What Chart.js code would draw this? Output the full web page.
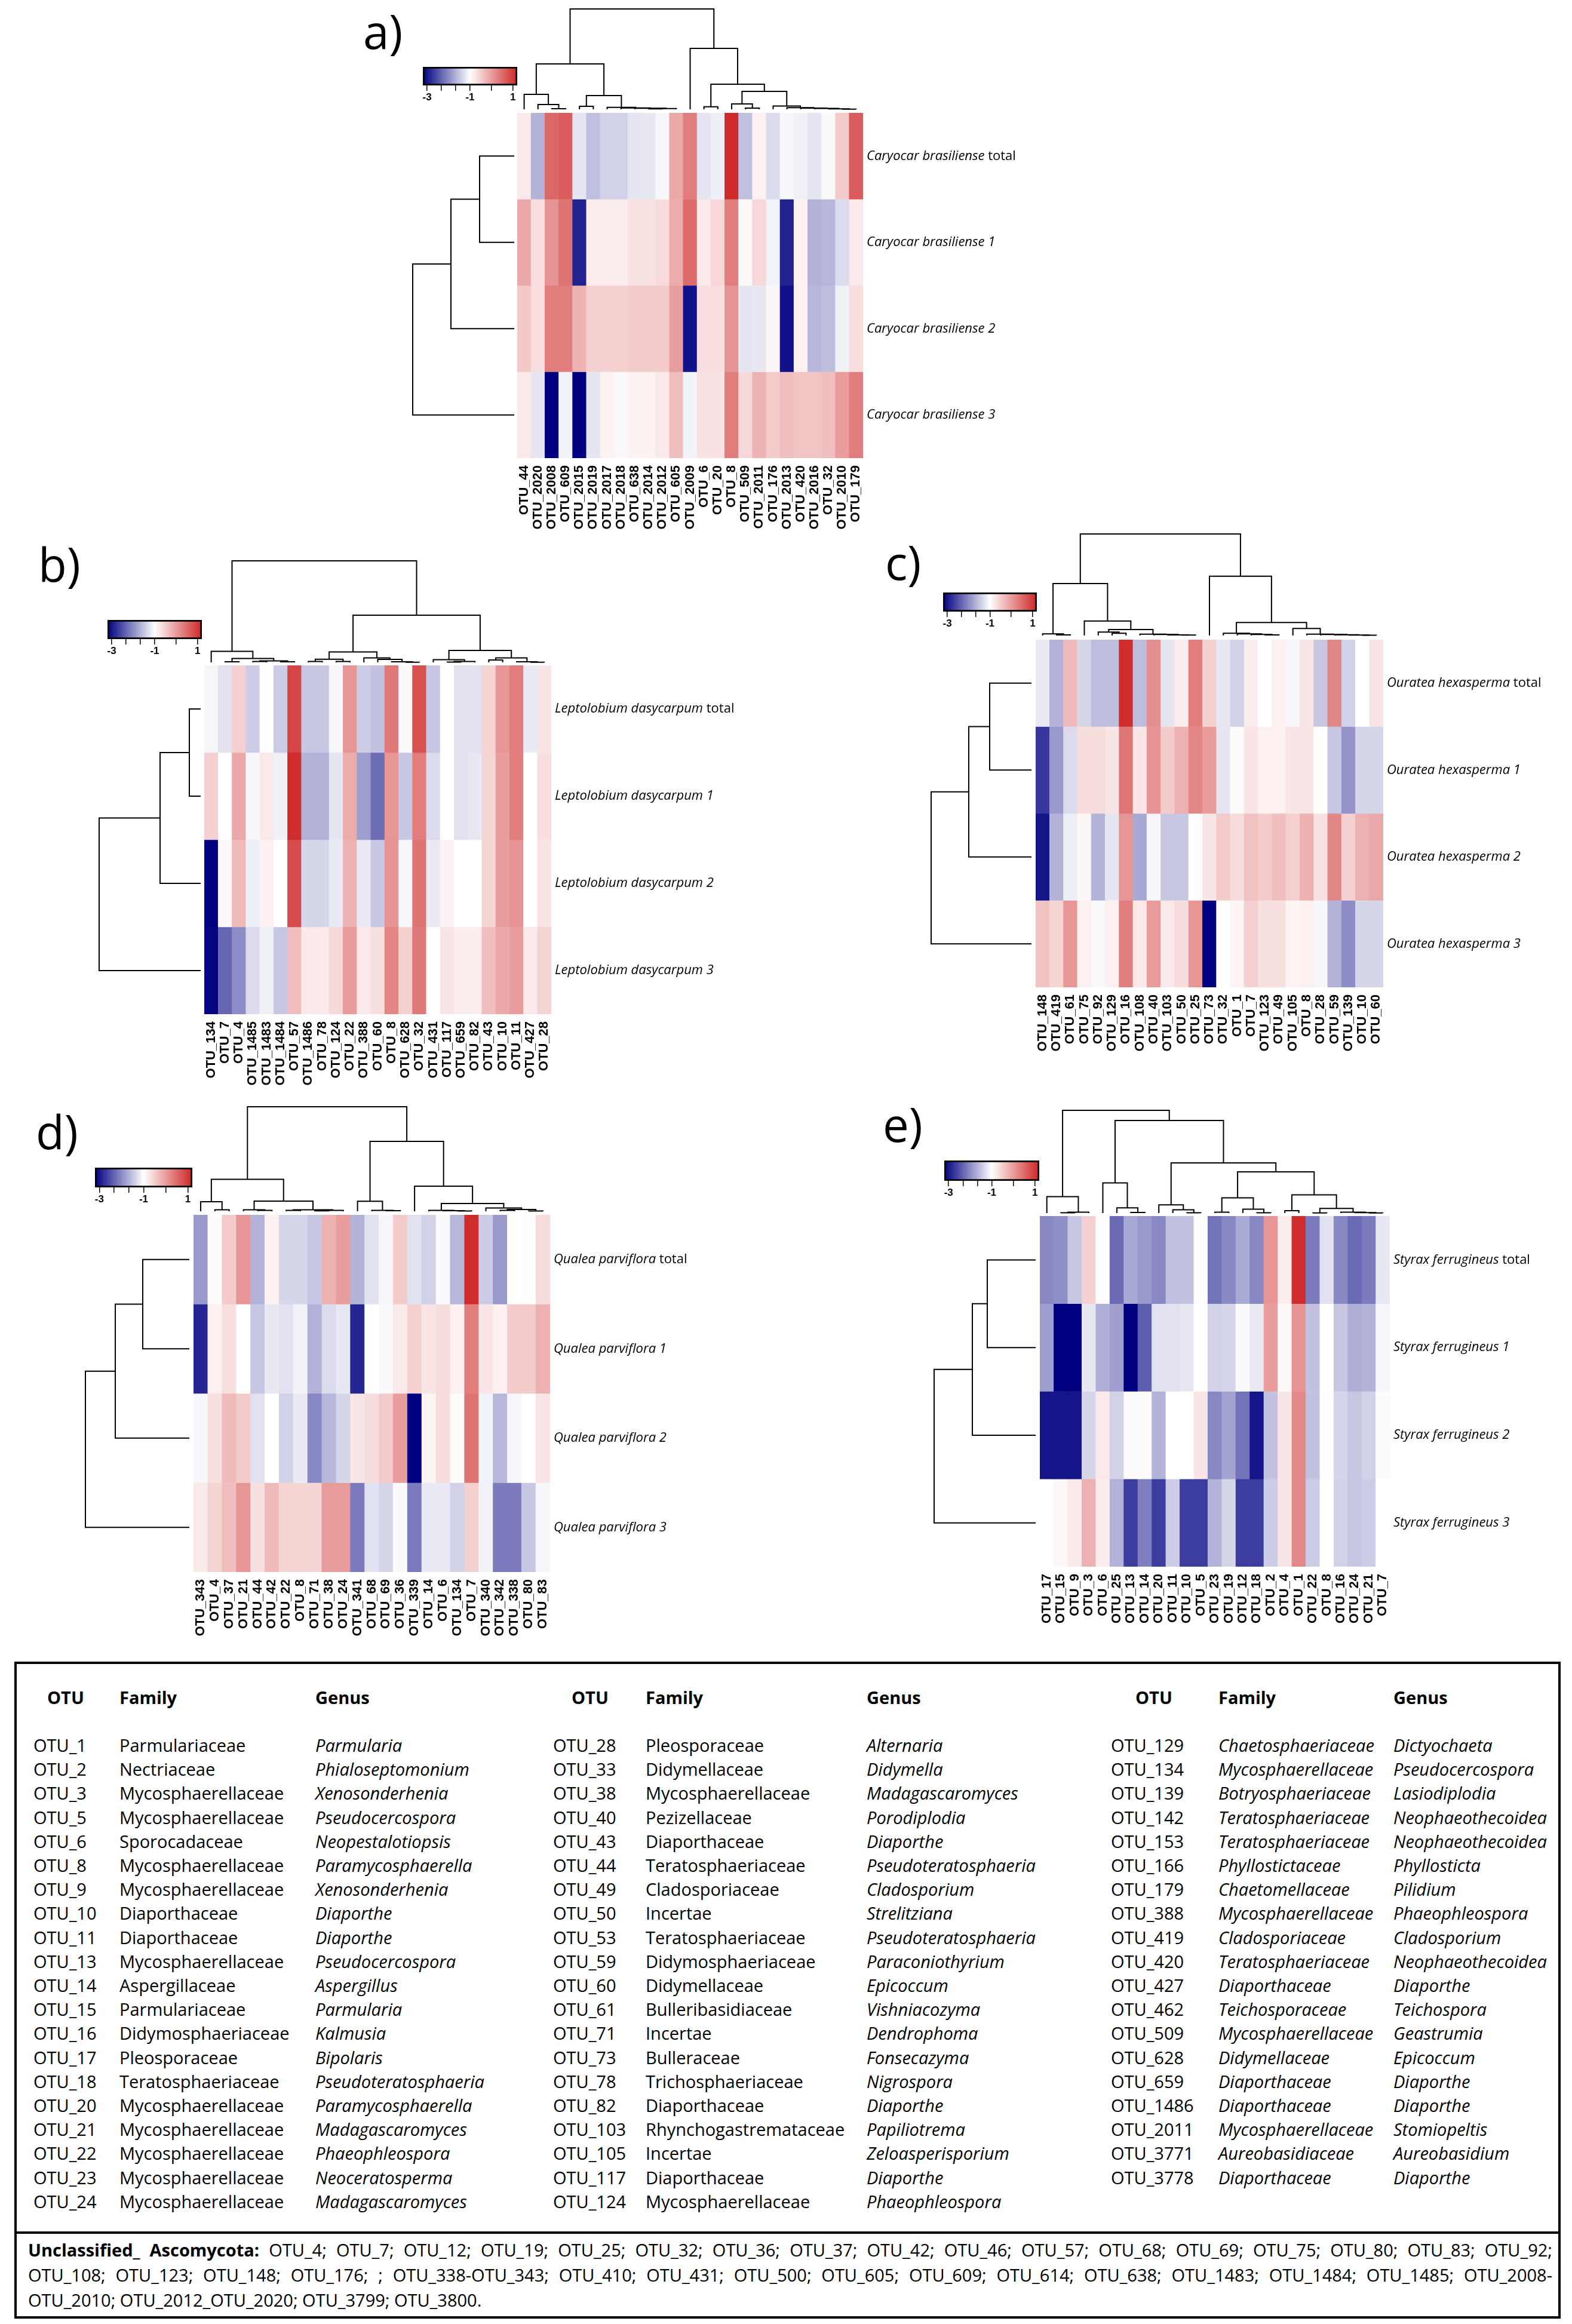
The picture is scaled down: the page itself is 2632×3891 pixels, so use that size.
<!DOCTYPE html>
<html><head><meta charset="utf-8">
<script src="https://cdn.jsdelivr.net/npm/chart.js@4.4.1/dist/chart.umd.min.js"></script>
<style>
html,body{margin:0;padding:0;background:#fff;}
#root{position:relative;width:2632px;height:3891px;background:#fff;overflow:hidden;font-family:"Open Sans",sans-serif;color:#000;}
#root canvas{position:absolute;}
.t{position:absolute;white-space:nowrap;font-size:29px;line-height:40px;}
.b{font-weight:bold;}
.i{font-style:italic;}
.letter{position:absolute;font-size:78px;line-height:78px;white-space:nowrap;}
</style></head><body><div id="root"></div>
<script>
// ---------------- DATA ----------------
const colsA = ['OTU_44','OTU_2020','OTU_2008','OTU_609','OTU_2015','OTU_2019','OTU_2017','OTU_2018','OTU_638','OTU_2014','OTU_2012','OTU_605','OTU_2009','OTU_6','OTU_20','OTU_8','OTU_509','OTU_2011','OTU_176','OTU_2013','OTU_420','OTU_2016','OTU_32','OTU_2010','OTU_179'];
const colsB = ['OTU_134','OTU_7','OTU_4','OTU_1485','OTU_1483','OTU_1484','OTU_57','OTU_1486','OTU_78','OTU_124','OTU_22','OTU_388','OTU_60','OTU_8','OTU_628','OTU_32','OTU_431','OTU_117','OTU_659','OTU_82','OTU_43','OTU_10','OTU_11','OTU_427','OTU_28'];
const colsC = ['OTU_148','OTU_419','OTU_61','OTU_75','OTU_92','OTU_129','OTU_16','OTU_108','OTU_40','OTU_103','OTU_50','OTU_25','OTU_73','OTU_32','OTU_1','OTU_7','OTU_123','OTU_49','OTU_105','OTU_8','OTU_28','OTU_59','OTU_139','OTU_10','OTU_60'];
const colsD = ['OTU_343','OTU_4','OTU_37','OTU_21','OTU_44','OTU_42','OTU_22','OTU_8','OTU_71','OTU_38','OTU_24','OTU_341','OTU_68','OTU_69','OTU_36','OTU_339','OTU_14','OTU_6','OTU_134','OTU_7','OTU_340','OTU_342','OTU_338','OTU_80','OTU_83'];
const colsE = ['OTU_17','OTU_15','OTU_9','OTU_3','OTU_6','OTU_25','OTU_13','OTU_14','OTU_20','OTU_11','OTU_10','OTU_5','OTU_23','OTU_19','OTU_12','OTU_18','OTU_2','OTU_4','OTU_1','OTU_22','OTU_8','OTU_16','OTU_24','OTU_21','OTU_7'];

const rowSuffix = ['total','1','2','3'];
const speciesA = 'Caryocar brasiliense';
const speciesB = 'Leptolobium dasycarpum';
const speciesC = 'Ouratea hexasperma';
const speciesD = 'Qualea parviflora';
const speciesE = 'Styrax ferrugineus';

// scaled abundance (rows: total, 1, 2, 3)
const valuesA = [
 [-0.78,-1.66,0.54,0.65,-1.22,-1.55,-1.4,-1.4,-1.22,-1.2,-1.07,-0.12,0.32,-1.22,-1.15,1.16,-1.55,-0.85,-1.31,-1.07,-1.13,-1.22,-1.04,-0.47,0.65],
 [-0.12,-0.67,0.1,0.43,-2.91,-0.82,-0.82,-0.82,-0.71,-0.71,-0.63,-0.16,0.5,-0.78,-0.6,0.32,-0.93,-0.6,-1.11,-2.91,-0.87,-1.66,-1.62,-1.31,-0.78],
 [-0.45,-0.67,0.32,0.32,-0.23,-0.52,-0.52,-0.52,-0.47,-0.47,-0.47,-0.01,-3.05,-0.67,-0.67,0.1,-1.22,-1.2,-0.91,-3.05,-0.85,-1.62,-1.57,-1.13,-0.67],
 [-0.78,-1.22,-3.2,-1.11,-3.2,-1.22,-0.87,-0.93,-0.87,-0.87,-0.78,-0.34,-1.11,-0.71,-0.71,0.32,-0.6,-0.23,-0.47,-0.34,-0.41,-0.41,-0.34,-0.01,0.32]
];
const valuesB = [
 [-1.09,-1.26,-0.52,-1.44,-1.0,-1.44,0.87,-1.48,-1.48,-1.07,0.06,-1.44,-1.53,0.36,-1.04,0.76,-1.48,-1.0,-1.26,-1.26,-0.56,0.06,0.32,-1.18,-0.74],
 [-0.52,-1.0,-0.12,-1.07,-0.78,-1.13,1.13,-1.66,-1.66,-1.22,-0.16,-1.84,-2.25,0.06,-1.48,0.32,-1.31,-1.0,-1.26,-1.2,-0.56,-0.01,0.32,-1.0,-0.69],
 [-3.2,-0.93,-0.3,-1.15,-0.85,-1.0,0.8,-1.35,-1.35,-1.18,-0.21,-1.18,-1.48,0.1,-1.07,0.41,-1.18,-0.87,-1.0,-1.0,-0.56,-0.01,0.1,-1.0,-0.74],
 [-3.16,-2.32,-1.99,-1.31,-1.13,-1.48,-0.34,-0.78,-0.78,-0.6,0.01,-0.78,-0.69,0.23,-0.52,0.36,-1.0,-0.74,-0.82,-0.82,-0.34,-0.12,-0.01,-0.78,-0.56]
];
const valuesC = [
 [-1.18,-1.66,-0.3,-1.35,-1.57,-1.57,1.13,-1.57,0.14,-1.22,-0.82,0.32,-0.52,-1.2,-1.4,-0.82,-1.0,-0.85,-1.07,-0.74,-1.48,0.23,-1.4,-1.0,-0.74],
 [-2.72,-1.88,-1.31,-0.65,-0.65,-0.74,0.39,-0.74,0.1,-0.47,-0.21,0.23,-0.01,-1.22,-0.96,-0.74,-0.85,-0.85,-0.74,-0.74,-1.0,-1.48,-1.92,-1.35,-1.35],
 [-3.02,-1.66,-1.15,-0.91,-1.66,-1.22,0.06,-1.75,-1.09,-1.48,-1.48,-1.0,-0.74,-0.47,-0.65,-0.38,-0.47,-0.34,-0.52,-0.21,-0.71,0.23,-0.52,-0.21,-0.12],
 [-0.38,-0.56,0.06,-0.85,-1.04,-0.85,0.32,-0.78,0.01,-0.78,-0.65,0.06,-3.2,-1.0,-0.89,-0.52,-0.69,-0.69,-0.89,-0.85,-1.07,-1.66,-1.99,-1.35,-1.35]
];
const valuesD = [
 [-1.88,-0.96,-0.47,0.06,-1.66,-0.85,-1.35,-1.35,-1.48,-0.21,-0.01,-1.66,-1.26,-1.07,-0.47,-1.26,-1.4,-1.04,-1.62,1.13,-1.44,-1.88,-1.0,-0.98,-0.65],
 [-2.87,-0.85,-0.69,-1.0,-1.48,-1.2,-1.26,-1.11,-1.66,-1.31,-1.2,-2.87,-1.0,-1.04,-0.78,-0.52,-0.74,-0.65,-0.85,0.32,-0.74,-0.85,-0.47,-0.47,-0.21],
 [-1.07,-0.69,-0.3,-0.47,-1.26,-1.0,-1.4,-1.18,-2.03,-1.62,-1.35,-0.74,-0.65,-0.47,-0.01,-3.2,-0.89,-0.65,-0.96,0.43,-1.11,-1.62,-1.07,-1.0,-0.74],
 [-0.78,-0.56,-0.34,0.06,-0.69,-0.3,-0.56,-0.56,-0.56,0.01,0.01,-2.14,-1.26,-1.35,-1.04,-2.14,-1.18,-1.18,-1.4,-0.52,-1.11,-2.14,-2.14,-1.48,-1.07]
];
const valuesE = [
 [-2.03,-1.97,-1.48,-0.52,-1.02,-2.28,-1.75,-1.88,-2.03,-1.53,-1.53,-1.02,-2.21,-2.03,-1.73,-2.03,0.06,-0.82,1.13,-2.14,-1.26,-2.03,-2.28,-2.14,-1.2],
 [-1.84,-3.2,-3.2,-1.2,-1.7,-1.84,-3.2,-2.39,-1.26,-1.26,-1.2,-1.0,-1.4,-1.35,-1.04,-1.18,-0.01,-0.93,0.1,-1.53,-1.0,-1.48,-1.7,-1.66,-1.07],
 [-3.02,-3.02,-3.02,-1.35,-0.78,-1.4,-0.96,-0.96,-1.66,-1.0,-1.0,-0.74,-2.03,-1.79,-2.21,-3.02,-1.53,-0.74,0.21,-1.53,-1.02,-1.35,-1.48,-1.4,-0.96],
 [-1.0,-0.93,-0.78,-0.21,-0.82,-1.66,-2.67,-2.1,-2.67,-1.44,-2.67,-2.67,-1.66,-1.35,-2.67,-2.67,-1.44,-0.74,0.21,-1.44,-1.0,-1.4,-1.48,-1.44,-1.0]
];

// hierarchical clustering merges: [nodeA, nodeB, height]; new node ids start at n
const colTreeA = [[2,3,1],[1,25,8],[0,26,25],[4,5,5],[9,10,0.8],[29,11,1.2],[8,30,1.8],[7,31,2.3],[6,32,3.3],[28,33,23],[27,34,76],[13,14,4.3],[16,17,2],[15,37,9],[23,24,0.3],[22,39,0.8],[21,40,1.5],[20,41,2],[19,42,2.7],[18,43,5.4],[38,44,30],[36,45,42],[12,46,102],[35,47,168]];
const colTreeB = [[1,2,1],[3,4,1.5],[5,6,1],[26,27,2.6],[25,28,6.4],[0,29,18.5],[7,8,1.5],[9,10,1.5],[31,32,5.3],[14,15,0.3],[13,34,1],[12,35,5],[11,36,7.4],[33,37,17.5],[17,18,0.5],[39,19,1.5],[16,40,4.5],[20,21,4],[23,24,0.3],[22,43,1],[42,44,7.4],[41,45,20],[38,46,79],[30,47,170]];
const colTreeC = [[1,2,1],[0,25,2.7],[5,6,3.7],[4,27,5.7],[10,11,0.7],[9,29,1],[8,30,1.7],[7,31,2.3],[28,32,10],[3,33,24.3],[26,34,87],[16,17,1],[15,36,1.7],[14,37,2.7],[13,38,3.7],[23,24,0.5],[22,40,0.8],[21,41,1.3],[20,42,1.7],[19,43,2.3],[18,44,11.7],[39,45,21.7],[12,46,99.3],[35,47,170]];
const colTreeD = [[1,2,2.5],[0,25,16],[4,5,1.5],[3,27,2.6],[6,7,1.5],[8,9,0.8],[30,10,1.5],[29,31,2.6],[28,32,17],[26,33,53.6],[13,14,1],[12,35,1.5],[11,36,16.8],[18,19,0.5],[17,38,1],[16,39,1.5],[21,22,1.5],[23,24,0.5],[41,42,3],[20,43,5.6],[40,44,13],[15,45,42],[37,46,117],[34,47,175]];
const colTreeE = [[1,2,0.5],[25,3,1.5],[0,26,27.5],[6,7,1],[5,28,8.7],[4,29,50.5],[10,11,0.5],[9,31,5.6],[8,32,13.8],[12,13,1.5],[15,16,0.5],[14,35,6.6],[34,36,25.5],[17,18,4],[19,20,0.3],[23,24,0.3],[22,40,0.8],[21,41,1.5],[39,42,7.7],[38,43,30.6],[37,44,69],[33,45,84],[30,46,155],[27,47,172]];

const rowTreeA = [[0,1,58],[4,2,106],[5,3,170]];
const rowTreeB = [[0,1,19],[4,2,68],[5,3,170]];
const rowTreeC = [[0,1,70],[4,2,105],[5,3,168]];
const rowTreeD = [[0,1,78],[4,2,124],[5,3,174]];
const rowTreeE = [[0,1,81],[4,2,106],[5,3,170]];

const legendTicks = [-3,-7/3,-5/3,-1,0,1];
const legendTickText = ['-3','','','-1','','1'];

const tableCol1 = [
 ['OTU_1','Parmulariaceae','Parmularia'],['OTU_2','Nectriaceae','Phialoseptomonium'],['OTU_3','Mycosphaerellaceae','Xenosonderhenia'],
 ['OTU_5','Mycosphaerellaceae','Pseudocercospora'],['OTU_6','Sporocadaceae','Neopestalotiopsis'],['OTU_8','Mycosphaerellaceae','Paramycosphaerella'],
 ['OTU_9','Mycosphaerellaceae','Xenosonderhenia'],['OTU_10','Diaporthaceae','Diaporthe'],['OTU_11','Diaporthaceae','Diaporthe'],
 ['OTU_13','Mycosphaerellaceae','Pseudocercospora'],['OTU_14','Aspergillaceae','Aspergillus'],['OTU_15','Parmulariaceae','Parmularia'],
 ['OTU_16','Didymosphaeriaceae','Kalmusia'],['OTU_17','Pleosporaceae','Bipolaris'],['OTU_18','Teratosphaeriaceae','Pseudoteratosphaeria'],
 ['OTU_20','Mycosphaerellaceae','Paramycosphaerella'],['OTU_21','Mycosphaerellaceae','Madagascaromyces'],['OTU_22','Mycosphaerellaceae','Phaeophleospora'],
 ['OTU_23','Mycosphaerellaceae','Neoceratosperma'],['OTU_24','Mycosphaerellaceae','Madagascaromyces']];
const tableCol2 = [
 ['OTU_28','Pleosporaceae','Alternaria'],['OTU_33','Didymellaceae','Didymella'],['OTU_38','Mycosphaerellaceae','Madagascaromyces'],
 ['OTU_40','Pezizellaceae','Porodiplodia'],['OTU_43','Diaporthaceae','Diaporthe'],['OTU_44','Teratosphaeriaceae','Pseudoteratosphaeria'],
 ['OTU_49','Cladosporiaceae','Cladosporium'],['OTU_50','Incertae','Strelitziana'],['OTU_53','Teratosphaeriaceae','Pseudoteratosphaeria'],
 ['OTU_59','Didymosphaeriaceae','Paraconiothyrium'],['OTU_60','Didymellaceae','Epicoccum'],['OTU_61','Bulleribasidiaceae','Vishniacozyma'],
 ['OTU_71','Incertae','Dendrophoma'],['OTU_73','Bulleraceae','Fonsecazyma'],['OTU_78','Trichosphaeriaceae','Nigrospora'],
 ['OTU_82','Diaporthaceae','Diaporthe'],['OTU_103','Rhynchogastremataceae','Papiliotrema'],['OTU_105','Incertae','Zeloasperisporium'],
 ['OTU_117','Diaporthaceae','Diaporthe'],['OTU_124','Mycosphaerellaceae','Phaeophleospora']];
const tableCol3 = [
 ['OTU_129','Chaetosphaeriaceae','Dictyochaeta'],['OTU_134','Mycosphaerellaceae','Pseudocercospora'],['OTU_139','Botryosphaeriaceae','Lasiodiplodia'],
 ['OTU_142','Teratosphaeriaceae','Neophaeothecoidea'],['OTU_153','Teratosphaeriaceae','Neophaeothecoidea'],['OTU_166','Phyllostictaceae','Phyllosticta'],
 ['OTU_179','Chaetomellaceae','Pilidium'],['OTU_388','Mycosphaerellaceae','Phaeophleospora'],['OTU_419','Cladosporiaceae','Cladosporium'],
 ['OTU_420','Teratosphaeriaceae','Neophaeothecoidea'],['OTU_427','Diaporthaceae','Diaporthe'],['OTU_462','Teichosporaceae','Teichospora'],
 ['OTU_509','Mycosphaerellaceae','Geastrumia'],['OTU_628','Didymellaceae','Epicoccum'],['OTU_659','Diaporthaceae','Diaporthe'],
 ['OTU_1486','Diaporthaceae','Diaporthe'],['OTU_2011','Mycosphaerellaceae','Stomiopeltis'],['OTU_3771','Aureobasidiaceae','Aureobasidium'],
 ['OTU_3778','Diaporthaceae','Diaporthe']];
const footerLabel = 'Unclassified_ Ascomycota:';
const footerLines = [
 ' OTU_4; OTU_7; OTU_12; OTU_19; OTU_25; OTU_32; OTU_36; OTU_37; OTU_42; OTU_46; OTU_57; OTU_68; OTU_69; OTU_75; OTU_80; OTU_83; OTU_92;',
 'OTU_108; OTU_123; OTU_148; OTU_176; ; OTU_338-OTU_343; OTU_410; OTU_431; OTU_500; OTU_605; OTU_609; OTU_614; OTU_638; OTU_1483; OTU_1484; OTU_1485; OTU_2008-',
 'OTU_2010; OTU_2012_OTU_2020; OTU_3799; OTU_3800.'];

// ---------------- COLOUR SCALE ----------------
const vmin = -3.2, vmax = 1.2, vmid = -1;
const navy = [0,0,128], white = [255,255,255], fire = [205,38,38];
function colorFor(v){
  let t = v >= vmid ? (v - vmid)/(vmax - vmid) : -(vmid - v)/(vmid - vmin);
  t = Math.max(-1, Math.min(1, t));
  const end = t < 0 ? navy : fire, a = Math.abs(t);
  const c = white.map((w,i)=>Math.round(w + (end[i]-w)*a));
  return 'rgb('+c[0]+','+c[1]+','+c[2]+')';
}

// ---------------- LAYOUT ----------------
const panels = [
 {letter:'a)', lx:608, lb:82, hm:{x:866,y:189,w:579,h:578}, topLeaves:183, leftLeaves:861, cbar:{x:708,y:112,w:158,h:31}, cols:colsA, values:valuesA, colTree:colTreeA, rowTree:rowTreeA, species:speciesA},
 {letter:'b)', lx:64, lb:974, hm:{x:342,y:1114,w:581,h:584}, topLeaves:1109, leftLeaves:336, cbar:{x:180,y:1038,w:158,h:32}, cols:colsB, values:valuesB, colTree:colTreeB, rowTree:rowTreeB, species:speciesB},
 {letter:'c)', lx:1482, lb:971, hm:{x:1734,y:1071,w:582,h:582}, topLeaves:1064, leftLeaves:1727, cbar:{x:1579,y:992,w:157,h:32}, cols:colsC, values:valuesC, colTree:colTreeC, rowTree:rowTreeC, species:speciesC},
 {letter:'d)', lx:60, lb:1924, hm:{x:324,y:2034,w:597,h:598}, topLeaves:2028, leftLeaves:317, cbar:{x:159,y:1955,w:163,h:33}, cols:colsD, values:valuesD, colTree:colTreeD, rowTree:rowTreeD, species:speciesD},
 {letter:'e)', lx:1478, lb:1912, hm:{x:1741,y:2036,w:586,h:587}, topLeaves:2031, leftLeaves:1734, cbar:{x:1581,y:1943,w:159,h:34}, cols:colsE, values:valuesE, colTree:colTreeE, rowTree:rowTreeE, species:speciesE}
];

Chart.defaults.color = '#000';
Chart.defaults.font.family = '"Liberation Sans", Arial, sans-serif';
const root = document.getElementById('root');
function mkCanvas(x,y,w,h){
  const c = document.createElement('canvas');
  c.width = w; c.height = h;
  c.style.left = x+'px'; c.style.top = y+'px'; c.style.width = w+'px'; c.style.height = h+'px';
  root.appendChild(c); return c;
}
function mkText(x, yCenter, html, cls){
  const d = document.createElement('div');
  d.className = 't ' + (cls||'');
  d.style.left = x+'px'; d.style.top = (yCenter-21)+'px';
  d.innerHTML = html; root.appendChild(d); return d;
}
const baseOpts = {responsive:false, animation:false, events:[], plugins:{legend:{display:false}, tooltip:{enabled:false}}};

function dendroSegments(n, merges){
  const pos = [], hgt = [], segs = [];
  for (let i=0;i<n;i++){ pos[i]=i; hgt[i]=0; }
  merges.forEach((m,k)=>{
    const [a,b,h] = m, id = n+k;
    segs.push([[pos[a],hgt[a]],[pos[a],h],[pos[b],h],[pos[b],hgt[b]]]);
    pos[id] = (pos[a]+pos[b])/2; hgt[id] = h;
  });
  return segs;
}

function makeHeatmap(p){
  const padL=20, padT=10, padR=460, axisH=150;
  const cv = mkCanvas(p.hm.x-padL, p.hm.y-padT, p.hm.w+padL+padR, p.hm.h+padT+axisH);
  const rowLabels = {id:'rowLabels', afterDraw(chart){
    const {ctx, chartArea, scales} = chart;
    ctx.save(); ctx.fillStyle='#000'; ctx.textBaseline='middle'; ctx.textAlign='left';
    rowSuffix.forEach((suf,r)=>{
      const y = scales.y.getPixelForValue(r+0.5);
      let x = chartArea.right + 6;
      ctx.font = 'italic 22px "Open Sans"';
      const sp = p.species + ' ';
      ctx.fillText(sp, x, y); x += ctx.measureText(sp).width;
      ctx.font = (suf==='total' ? '' : 'italic ') + '22px "Open Sans"';
      ctx.fillText(suf, x, y);
    });
    ctx.restore();
  }};
  new Chart(cv, {
    type:'bar',
    data:{labels:p.cols, datasets:p.values.map((row,r)=>({
      label:rowSuffix[r], data:row.map(()=>1), backgroundColor:row.map(colorFor),
      borderWidth:0, barPercentage:1, categoryPercentage:1}))},
    options:Object.assign({}, baseOpts, {
      layout:{padding:{left:padL, top:padT, right:padR, bottom:0}},
      scales:{
        x:{stacked:true, grid:{display:false, drawTicks:false}, border:{display:false},
           ticks:{autoSkip:false, minRotation:90, maxRotation:90, padding:12, color:'#000',
                  font:{family:'"Liberation Sans"', weight:'bold', size:22}},
           afterFit:s=>{ s.height = axisH; }},
        y:{stacked:true, reverse:true, min:0, max:4, display:false}
      }}),
    plugins:[rowLabels]
  });
}

function makeTopDendro(p){
  const n = p.cols.length, segs = dendroSegments(n, p.colTree);
  const maxH = p.colTree[p.colTree.length-1][2], pad = 4;
  const cv = mkCanvas(p.hm.x-pad, p.topLeaves-maxH-pad, p.hm.w+2*pad, maxH+2*pad);
  new Chart(cv, {type:'scatter',
    data:{datasets:segs.map(s=>({data:s.map(([x,h])=>({x:x, y:h})), showLine:true, borderColor:'#000', borderWidth:2, pointRadius:0, clip:false}))},
    options:Object.assign({}, baseOpts, {layout:{padding:pad},
      scales:{x:{type:'linear', min:-0.5, max:n-0.5, display:false}, y:{type:'linear', min:0, max:maxH, display:false}}})});
}

function makeLeftDendro(p){
  const n = 4, segs = dendroSegments(n, p.rowTree);
  const maxH = p.rowTree[p.rowTree.length-1][2], pad = 4;
  const cv = mkCanvas(p.leftLeaves-maxH-pad, p.hm.y, maxH+2*pad, p.hm.h);
  new Chart(cv, {type:'scatter',
    data:{datasets:segs.map(s=>({data:s.map(([y,h])=>({x:h, y:y})), showLine:true, borderColor:'#000', borderWidth:2, pointRadius:0, clip:false}))},
    options:Object.assign({}, baseOpts, {layout:{padding:{left:pad, right:pad, top:0, bottom:0}},
      scales:{x:{type:'linear', min:0, max:maxH, reverse:true, display:false}, y:{type:'linear', min:-0.5, max:n-0.5, reverse:true, display:false}}})});
}

function makeColorbar(p){
  const c = p.cbar, padX = 14, padT = 3, axisH = 36;
  const cv = mkCanvas(c.x-padX, c.y-padT, c.w+2*padX, c.h+padT+axisH);
  new Chart(cv, {type:'bar',
    data:{labels:[''], datasets:[{data:[[vmin,vmax]],
      backgroundColor:(ctx)=>{
        const a = ctx.chart.chartArea; if(!a) return '#fff';
        const g = ctx.chart.ctx.createLinearGradient(a.left,0,a.right,0);
        g.addColorStop(0, colorFor(vmin)); g.addColorStop(0.5, colorFor(vmid)); g.addColorStop(1, colorFor(vmax));
        return g;},
      borderColor:'#000', borderWidth:3, borderSkipped:false, barPercentage:1, categoryPercentage:1}]},
    options:Object.assign({}, baseOpts, {indexAxis:'y',
      layout:{padding:{left:padX, right:padX, top:padT, bottom:0}},
      scales:{
        x:{type:'linear', min:vmin, max:vmax,
           grid:{display:true, drawOnChartArea:false, drawTicks:true, tickLength:9, color:'#000', lineWidth:1.5},
           border:{display:false},
           afterBuildTicks:s=>{ s.ticks = legendTicks.map(v=>({value:v})); },
           ticks:{autoSkip:false, maxRotation:0, padding:1, color:'#000', font:{family:'"Liberation Sans"', weight:'bold', size:17},
                  callback:(v,i)=>legendTickText[i]},
           afterFit:s=>{ s.height = axisH; }},
        y:{display:false}
      }})});
}

panels.forEach(p=>{
  const L = document.createElement('div');
  L.className = 'letter'; L.textContent = p.letter;
  L.style.left = p.lx+'px'; L.style.top = (p.lb-69)+'px';
  root.appendChild(L);
  makeTopDendro(p); makeLeftDendro(p); makeHeatmap(p); makeColorbar(p);
});

// ---------------- TABLE ----------------
const box = document.createElement('div');
Object.assign(box.style,{position:'absolute', left:'24px', top:'2782px', width:'2589px', height:'1100px', border:'4px solid #000', boxSizing:'border-box'});
root.appendChild(box);
const sep = document.createElement('div');
Object.assign(sep.style,{position:'absolute', left:'24px', top:'3736px', width:'2589px', height:'4px', background:'#000'});
root.appendChild(sep);

const tableLayout = [
 {rows:tableCol1, otuX:56, famX:200, genX:528, hdrX:79, famItalic:false},
 {rows:tableCol2, otuX:926, famX:1081, genX:1451, hdrX:957, famItalic:false},
 {rows:tableCol3, otuX:1860, famX:2040, genX:2333, hdrX:1901, famItalic:true}
];
const headerY = 2843, firstRowY = 2923, rowStep = 40.2;
tableLayout.forEach(tc=>{
  mkText(tc.hdrX, headerY, 'OTU', 'b');
  mkText(tc.famX, headerY, 'Family', 'b');
  mkText(tc.genX, headerY, 'Genus', 'b');
  tc.rows.forEach((r,i)=>{
    const y = firstRowY + i*rowStep;
    mkText(tc.otuX, y, r[0]);
    mkText(tc.famX, y, r[1], tc.famItalic ? 'i' : '');
    mkText(tc.genX, y, r[2], 'i');
  });
});

const footY = [3768, 3810, 3852], footX = 47, footW = 2552;
footerLines.forEach((line,i)=>{
  const html = (i===0 ? '<span class="b">'+footerLabel+'</span>' : '') + line;
  const d = mkText(footX, footY[i], html);
  if (i < 2){
    const w = d.getBoundingClientRect().width;
    const spaces = ((i===0 ? footerLabel : '') + line).split(' ').length - 1;
    d.style.wordSpacing = ((footW - w)/spaces) + 'px';
  }
});
</script></body></html>
